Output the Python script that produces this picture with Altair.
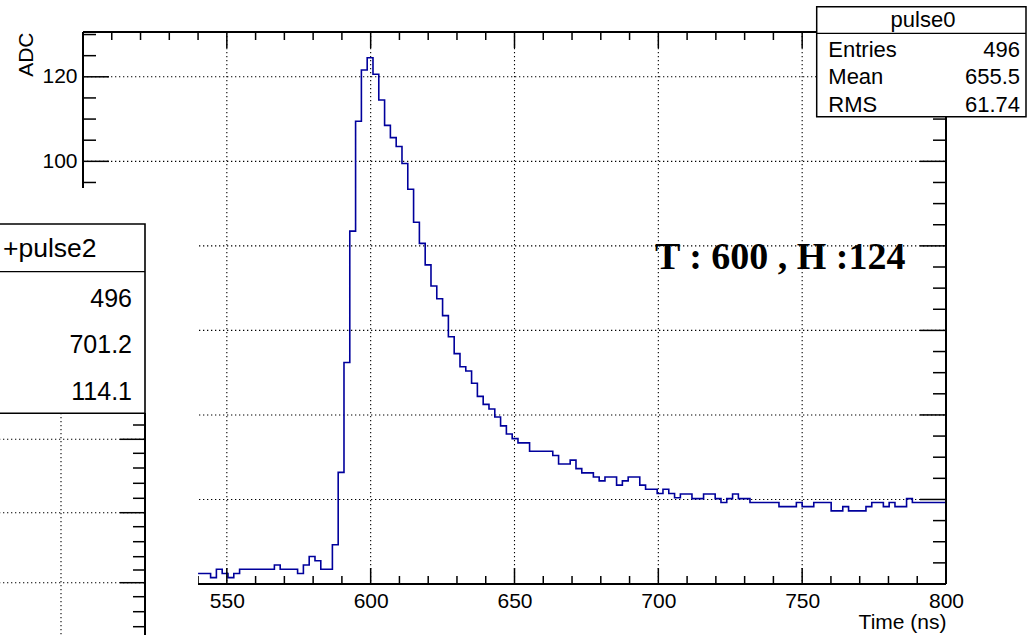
import altair as alt
import pandas as pd

# ---------------- data ----------------
bin_width = 1000 / 496          # 496 bins spanning 0-1000 ns
first_bin = 268                 # first bin inside the 540-800 ns window
adc = [2.5, 2.5, 1.5, 3.5, 2.5, 1.5, 2.5,
       3.5, 3.5, 3.5, 3.5, 3.5, 3.5, 4.5, 3.5, 3.5, 3.5,
       2.5, 4.5, 6.5, 5.5, 3.5, 3.5,
       9.3, 26.4, 52.4, 83.5, 109.5, 121.6, 124.5, 120.6, 114.5, 108.5,
       105.6, 103.5, 99.5, 93.4, 85.6, 80.6, 75.5, 70.5, 67.5, 63.5,
       58.5, 54.5, 51.4, 50.4, 47.5, 44.4, 42.5, 41.4, 39.5, 37.4,
       35.5, 34.4, 33.4, 33.4, 31.4, 31.4, 31.4, 31.4, 30.4, 28.4,
       28.4, 29.3, 27.3, 26.3, 26.3, 25.3, 24.4, 25.3, 25.3, 23.4,
       24.4, 25.3, 25.3, 23.4, 22.4, 22.4, 21.4, 22.4, 21.4, 20.4,
       21.3, 21.3, 20.2, 20.2, 21.3, 21.3, 20.2, 19.3, 20.2, 21.3,
       20.2, 20.2, 19.3, 19.3, 19.3, 19.3, 19.3, 18.3, 18.3, 18.3,
       19.3, 18.3, 18.3, 19.3, 19.3, 19.3, 17.3, 17.3, 18.3, 17.3,
       17.3, 17.3, 18.3, 19.3, 19.3, 18.3, 19.3, 18.3, 18.3, 20.2,
       19.3, 19.3, 19.3, 19.3, 19.3, 19.3]

# only the tick labels that are not hidden by the overlapping pads
x_labels = [550, 600, 650, 700, 750, 800]
y_labels = [100, 120]
x_grid = [550, 600, 650, 700, 750]
y_grid = [20, 40, 60, 80, 100, 120]
x_major_ticks = [500, 550, 600, 650, 700, 750, 800]
x_minor_ticks = [v for v in range(500, 801, 10) if v % 50 != 0]
y_major_ticks = [0, 20, 40, 60, 80, 100, 120]
y_minor_ticks = [v for v in range(0, 131, 5) if v % 20 != 0]

stat_names = ["Entries", "Mean", "RMS"]
pulse0_stats = ["496", "655.5", "61.74"]
pulse2_stats = ["496", "701.2", "114.1"]
annotation = "T : 600 , H :124"

# histogram outline points (bin edges, clipped to the 540-800 window)
t_edges = [540.0] + [(first_bin + k) * bin_width for k in range(1, len(adc))] + [800.0]
hist = pd.DataFrame({"t": t_edges, "adc": adc + [adc[-1]]})

# ---------------- layout ----------------
X0, Y0 = 83, 32
W, H = 863, 552
FONT = "Liberation Sans"
def px(x):
    return x - X0
def py(y):
    return y - Y0

xs = alt.Scale(domain=[500, 800], nice=False, zero=False)
ys = alt.Scale(domain=[0, 130.6], nice=False, zero=False)
one = pd.DataFrame({"d": [0]})
dash = [1.3, 2.7]

x_axis = alt.Axis(values=x_labels, format="d", labelFont=FONT, labelFontSize=21,
                  labelColor="black", labelPadding=23, labelBaseline="alphabetic",
                  labelFlush=False, labelOverlap=False, ticks=False, tickSize=0,
                  domain=False, grid=False, title="Time (ns)", titleFont=FONT,
                  titleFontSize=21, titleFontWeight="normal", titleColor="black",
                  titleAnchor="end", titleAlign="right", titleBaseline="alphabetic",
                  titleX=W, titleY=44, zindex=0)
y_axis = alt.Axis(values=y_labels, format="d", labelFont=FONT, labelFontSize=21,
                  labelColor="black", labelPadding=6, labelBaseline="middle",
                  labelFlush=False, labelOverlap=False, ticks=False, tickSize=0,
                  domain=False, grid=False, title="ADC", titleFont=FONT,
                  titleFontSize=21, titleFontWeight="normal", titleColor="black",
                  titleAngle=270, titleAnchor="end", titleAlign="right",
                  titleBaseline="alphabetic", titleX=-51, titleY=0, zindex=0)

def X(field):
    return alt.X(field, scale=xs, axis=x_axis)
def Y(field):
    return alt.Y(field, scale=ys, axis=y_axis)

layers = []

# grid
layers.append(alt.Chart(pd.DataFrame({"v": x_grid})).mark_rule(
    color="black", strokeWidth=1.1, strokeDash=dash).encode(
    x=X("v:Q"), y=alt.value(0), y2=alt.value(H)))
layers.append(alt.Chart(pd.DataFrame({"v": y_grid})).mark_rule(
    color="black", strokeWidth=1.1, strokeDash=dash).encode(
    y=Y("v:Q"), x=alt.value(0), x2=alt.value(W)))

# histogram
layers.append(alt.Chart(hist).mark_line(
    interpolate="step-after", color="#00009c", strokeWidth=1.6).encode(
    x=X("t:Q"), y=Y("adc:Q")))

# ticks
def xticks(vals, a, b):
    return alt.Chart(pd.DataFrame({"v": vals})).mark_rule(color="black", strokeWidth=1.5).encode(
        x=X("v:Q"), y=alt.value(a), y2=alt.value(b))
def yticks(vals, a, b):
    return alt.Chart(pd.DataFrame({"v": vals})).mark_rule(color="black", strokeWidth=1.5).encode(
        y=Y("v:Q"), x=alt.value(a), x2=alt.value(b))

layers += [
    xticks(x_major_ticks, H, H - 16), xticks(x_minor_ticks, H, H - 8),
    xticks(x_major_ticks, 0, 16), xticks(x_minor_ticks, 0, 8),
    yticks(y_major_ticks, 0, 26), yticks(y_minor_ticks, 0, 13),
    yticks(y_major_ticks, W, W - 26), yticks(y_minor_ticks, W, W - 13),
]

# frame
def hline(y, x1, x2, w=2.0, d=None):
    kw = dict(color="black", strokeWidth=w)
    if d:
        kw["strokeDash"] = d
    return alt.Chart(one).mark_rule(**kw).encode(
        x=alt.value(x1), x2=alt.value(x2), y=alt.value(y))
def vline(x, y1, y2, w=2.0, d=None):
    kw = dict(color="black", strokeWidth=w)
    if d:
        kw["strokeDash"] = d
    return alt.Chart(one).mark_rule(**kw).encode(
        x=alt.value(x), y=alt.value(y1), y2=alt.value(y2))

layers += [hline(0, 0, W), hline(H, 0, W), vline(0, 0, H), vline(W, 0, H)]

# annotation
layers.append(alt.Chart(one).mark_text(
    text=annotation, font="Liberation Serif", fontWeight="bold", fontSize=38,
    align="left", baseline="alphabetic", color="black").encode(
    x=alt.value(px(655)), y=alt.value(py(269))))

# overlapping left pad
layers.append(alt.Chart(one).mark_rect(fill="white").encode(
    x=alt.value(px(-5)), x2=alt.value(px(198)), y=alt.value(py(188)), y2=alt.value(py(640))))

# sub-pad decorations (grid / axis of the partially hidden pad)
sub_major_px = [439.3, 512.7, 582.7]
sub_minor_px = [425, 453.3, 468, 483.3, 498.3, 526.7, 541.7, 556.7, 570, 596.7, 611.7, 626.7]
for yy in sub_major_px:
    layers.append(hline(py(yy), px(-5), px(145), w=1.1, d=dash))
    layers.append(hline(py(yy), px(120), px(145), w=1.5))
for yy in sub_minor_px:
    layers.append(hline(py(yy), px(133), px(145), w=1.5))
layers.append(vline(px(61), py(413), py(640), w=1.1, d=dash))
layers.append(vline(px(145), py(413), py(640), w=2.0))

# +pulse2 stats box
layers.append(alt.Chart(one).mark_rect(fill="white", stroke="black", strokeWidth=1.6).encode(
    x=alt.value(px(-5)), x2=alt.value(px(145)), y=alt.value(py(224)), y2=alt.value(py(413.3))))
layers.append(hline(py(271.7), px(-5), px(145), w=1.3))
layers.append(alt.Chart(one).mark_text(
    text="+pulse2", font=FONT, fontSize=26.5, align="left", baseline="alphabetic", color="black").encode(
    x=alt.value(px(3)), y=alt.value(py(257))))
for val, yy in zip(pulse2_stats, [307.3, 353.3, 400]):
    layers.append(alt.Chart(one).mark_text(
        text=val, font=FONT, fontSize=25, align="right", baseline="alphabetic", color="black").encode(
        x=alt.value(px(132)), y=alt.value(py(yy))))

# pulse0 stats box
layers.append(alt.Chart(one).mark_rect(fill="white", stroke="black", strokeWidth=1.5).encode(
    x=alt.value(px(816.7)), x2=alt.value(px(1026)), y=alt.value(py(6.7)), y2=alt.value(py(116.7))))
layers.append(hline(py(33.3), px(816.7), px(1026), w=1.3))
layers.append(alt.Chart(one).mark_text(
    text="pulse0", font=FONT, fontSize=22, align="center", baseline="alphabetic", color="black").encode(
    x=alt.value(px(923)), y=alt.value(py(26.7))))
for name, val, yy in zip(stat_names, pulse0_stats, [56.7, 84.3, 112]):
    layers.append(alt.Chart(one).mark_text(
        text=name, font=FONT, fontSize=22, align="left", baseline="alphabetic", color="black").encode(
        x=alt.value(px(828.3)), y=alt.value(py(yy))))
    layers.append(alt.Chart(one).mark_text(
        text=val, font=FONT, fontSize=22, align="right", baseline="alphabetic", color="black").encode(
        x=alt.value(px(1020)), y=alt.value(py(yy))))

chart = alt.layer(*layers).properties(
    width=W, height=H,
    padding={"left": X0, "top": Y0, "right": 1027 - X0 - W, "bottom": 635 - Y0 - H},
    autosize=alt.AutoSizeParams(type="none"),
    background="white",
).configure_view(strokeWidth=0)

chart.save("out.html", embed_options={"renderer": "svg", "actions": False})
